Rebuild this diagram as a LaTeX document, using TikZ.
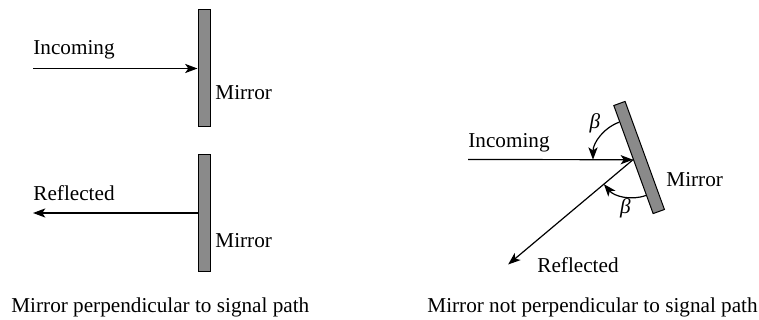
\documentclass[tikz,border=0pt]{standalone}
\usepackage{fontspec}
\setmainfont{Liberation Serif}
\usetikzlibrary{arrows.meta}
\definecolor{mirrorgray}{RGB}{138,138,138}

\begin{document}
\begin{tikzpicture}[
    x=0.5pt, y=-0.5pt,
    font=\fontsize{10.6pt}{12pt}\selectfont,
    mirror/.style={draw, fill=mirrorgray, line width=0.5pt, minimum width=6pt, inner sep=0pt},
    ray/.style={line width=0.6pt, -{Stealth[length=6.2pt,width=4.6pt,inset=1.6pt]}},
    lbl/.style={inner sep=0pt, anchor=base west}
]
\useasboundingbox (0,0) rectangle (759,320);

% Left: mirror perpendicular to signal path
\node[mirror, minimum height=58.5pt] (mirrorA) at (204,68.5) {};
\node[mirror, minimum height=58pt] (mirrorB) at (204,213) {};

\coordinate (inA) at (33,68.5);
\coordinate (outB) at (33,213);
\draw[ray] (inA) -- (mirrorA.west);
\draw[ray] (mirrorB.west) -- (outB);

\node[lbl] (incomingA) at (33,55) {Incoming};
\node[lbl] (mirrorlblA) at (215,100) {Mirror};
\node[lbl] (reflectedB) at (33,200) {Reflected};
\node[lbl] (mirrorlblB) at (215,248) {Mirror};

% Right: mirror tilted by 20 degrees
\node[mirror, minimum height=57.5pt, rotate=20] (mirrorC) at (639.1,157.5) {};

\coordinate (inC) at (468,159.5);
\coordinate (outC) at ([shift={(220:81.5pt)}]mirrorC.west);
\draw[ray] (inC) -- (mirrorC.west);
\draw[ray] (mirrorC.west) -- (outC);

% Angle arcs
\draw[ray] ([shift={(110:20pt)}]mirrorC.west) arc[start angle=110, end angle=180, radius=20pt];
\draw[ray] ([shift={(290:19pt)}]mirrorC.west) arc[start angle=290, end angle=220, radius=19pt];
\node (betaA) at ([shift={(136:26.5pt)}]mirrorC.west) {\itshape β};
\node (betaC) at ([shift={(261:24.5pt)}]mirrorC.west) {\itshape β};

\node[lbl] (incomingC) at (468,148) {Incoming};
\node[lbl] (mirrorlblC) at (666,187) {Mirror};
\node[lbl] (reflectedC) at (537,272) {Reflected};

% Captions
\node[lbl] (captionA) at (11,312) {Mirror perpendicular to signal path};
\node[lbl] (captionC) at (427,312) {Mirror not perpendicular to signal path};

\end{tikzpicture}
\end{document}
